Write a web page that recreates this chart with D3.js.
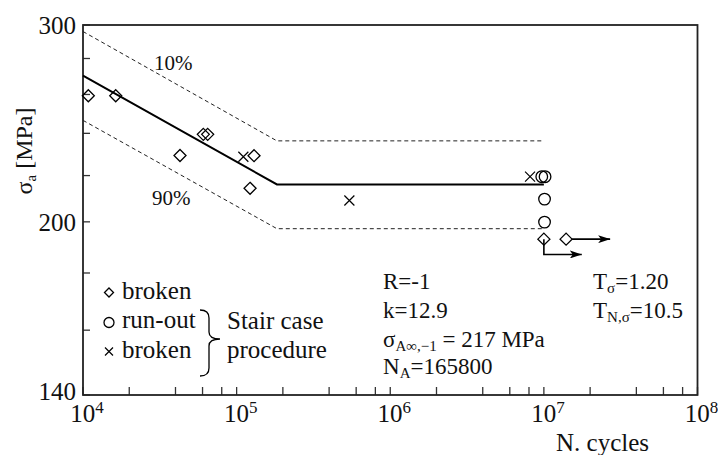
<!DOCTYPE html>
<html><head><meta charset="utf-8">
<script src="https://cdn.jsdelivr.net/npm/d3@7"></script>
</head>
<body style="margin:0">
<svg id="c" width="718" height="455"></svg>
<script>
// ---- data ----
const xMajorTicks = [1e4, 1e5, 1e6, 1e7, 1e8];
const xMajorExp = ["4", "5", "6", "7", "8"];
const xMinorMult = [2, 4, 6, 8];
const yTicks = [140, 160, 180, 200, 220, 240, 260, 280, 300];
const yTickLabels = [140, 200, 300];

const meanN = [1e4, 1.83e5, 1e7];
const meanS = [270.3, 216, 216];
const p10N = [1e4, 1.83e5, 1e7];
const p10S = [296, 236.3, 236.3];
const p90N = [1e4, 1.83e5, 1e7];
const p90S = [246.5, 197.2, 197.2];

const brokenN = [1.083e4, 1.633e4, 4.28e4, 6.07e4, 6.48e4, 1.298e5, 1.223e5, 1.0e7, 1.395e7];
const brokenS = [259.3, 259.3, 229.3, 239.5, 239.5, 229.2, 214.3, 193.0, 193.0];
const runoutN = [9.69e6, 1.018e7, 1.01e7, 1.01e7];
const runoutS = [219.5, 219.5, 209.6, 199.9];
const stairBrokenN = [1.106e5, 5.42e5, 8.13e6];
const stairBrokenS = [228.7, 209.0, 219.5];

// run-out arrows
const arrow1 = {n0: 1.0e7, s0: 193.0, s1: 187.0, n1: 1.765e7};
const arrow2 = {n0: 1.395e7, s0: 193.0, n1: 2.70e7};

// ---- layout ----
const FF = "'Liberation Serif'";
const L = 83, R = 697.5, T = 25, B = 395;
const svg = d3.select("#c");
const x = d3.scaleLog().domain([1e4, 1e8]).range([L, R]);
const y = d3.scaleLog().domain([140, 300]).range([B, T]);
const txt = (g, xx, yy, size) => g.append("text").attr("x", xx).attr("y", yy)
  .attr("font-family", FF).attr("font-size", size).attr("fill", "#111");

svg.append("defs").append("marker").attr("id","ah").attr("viewBox","0 0 12 8")
  .attr("refX",12).attr("refY",4).attr("markerWidth",12).attr("markerHeight",8)
  .attr("markerUnits","userSpaceOnUse").attr("orient","auto")
  .append("path").attr("d","M0,0 L12,4 L0,8 L3,4 Z").attr("fill","#000");

// ticks
const tg = svg.append("g").attr("stroke","#333").attr("stroke-width",1.3);
const minor = [];
for (let d = 1e4; d < 1e8; d *= 10) xMinorMult.forEach(m => minor.push(d*m));
minor.concat(xMajorTicks).forEach(v => {
  tg.append("line").attr("x1",x(v)).attr("x2",x(v)).attr("y1",B).attr("y2",B-8);
});
yTicks.forEach(v => {
  tg.append("line").attr("x1",L).attr("x2",L+7).attr("y1",y(v)).attr("y2",y(v));
});

// frame
svg.append("rect").attr("x",L).attr("y",T).attr("width",R-L).attr("height",B-T)
  .attr("fill","none").attr("stroke","#222").attr("stroke-width",1.8);

// tick labels
xMajorTicks.forEach((v,i) => {
  const t = txt(svg, x(v)+4, 422, 25).attr("text-anchor","middle");
  t.append("tspan").text("10");
  t.append("tspan").attr("font-size",17).attr("dy",-9).text(xMajorExp[i]);
});
yTickLabels.forEach(v => {
  txt(svg, 76, y(v) + (v===140 ? 5 : 9), 25).attr("text-anchor","end").text(v);
});

// axis titles
const yl = txt(svg, 0, 0, 24).attr("transform","translate(32,151) rotate(-90)").attr("text-anchor","middle");
yl.append("tspan").text("σ");
yl.append("tspan").attr("font-size",15).attr("dy",4).text("a");
yl.append("tspan").attr("dy",-4).text(" [MPa]");
txt(svg, 556, 451, 25).text("N. cycles");

// lines
const line = d3.line().x(d => x(d[0])).y(d => y(d[1]));
svg.append("path").datum(d3.zip(p10N,p10S)).attr("d",line).attr("fill","none")
  .attr("stroke","#222").attr("stroke-width",1).attr("stroke-dasharray","4,3");
svg.append("path").datum(d3.zip(p90N,p90S)).attr("d",line).attr("fill","none")
  .attr("stroke","#222").attr("stroke-width",1).attr("stroke-dasharray","4,3");
svg.append("path").datum(d3.zip(meanN,meanS)).attr("d",line).attr("fill","none")
  .attr("stroke","#000").attr("stroke-width",2);

txt(svg, 154, 70, 21).text("10%");
txt(svg, 152, 205, 21).text("90%");

// arrows
svg.append("path").attr("d", `M${x(arrow1.n0)},${y(arrow1.s0)} L${x(arrow1.n0)},${y(arrow1.s1)} L${x(arrow1.n1)},${y(arrow1.s1)}`)
  .attr("fill","none").attr("stroke","#000").attr("stroke-width",1.6).attr("marker-end","url(#ah)");
svg.append("line").attr("x1",x(arrow2.n0)+6).attr("y1",y(arrow2.s0)).attr("x2",x(arrow2.n1)).attr("y2",y(arrow2.s0))
  .attr("stroke","#000").attr("stroke-width",1.6).attr("marker-end","url(#ah)");

// markers
const diamond = (g, cx, cy, r) => g.append("path")
  .attr("d",`M${cx},${cy-r} L${cx+r},${cy} L${cx},${cy+r} L${cx-r},${cy} Z`)
  .attr("fill","none").attr("stroke","#000").attr("stroke-width",1.3);
const circle = (g, cx, cy, r) => g.append("circle").attr("cx",cx).attr("cy",cy).attr("r",r)
  .attr("fill","none").attr("stroke","#000").attr("stroke-width",1.3);
const cross = (g, cx, cy, r) => g.append("path")
  .attr("d",`M${cx-r},${cy-r} L${cx+r},${cy+r} M${cx-r},${cy+r} L${cx+r},${cy-r}`)
  .attr("fill","none").attr("stroke","#000").attr("stroke-width",1.2);

const mg = svg.append("g");
brokenN.forEach((n,i) => diamond(mg, x(n), y(brokenS[i]), 6));
runoutN.forEach((n,i) => circle(mg, x(n), y(runoutS[i]), 5.8));
stairBrokenN.forEach((n,i) => cross(mg, x(n), y(stairBrokenS[i]), 5));

// legend
const lg = svg.append("g");
diamond(lg, 109, 292.5, 4.5);
circle(lg, 109, 322.5, 5);
cross(lg, 109, 351.5, 4);
txt(lg, 122, 299, 25).text("broken");
txt(lg, 122, 328, 25).text("run-out");
txt(lg, 122, 358, 25).text("broken");
lg.append("path").attr("d","M200,310 Q209,310 209,318 L209,332 Q209,339 220,339 Q209,339 209,346 L209,368 Q209,376 200,376")
  .attr("fill","none").attr("stroke","#000").attr("stroke-width",1.3);
txt(lg, 227, 329, 25).text("Stair case");
txt(lg, 227, 358, 25).text("procedure");

// annotations
const ann = svg.append("g");
txt(ann, 383, 289, 23).text("R=-1");
txt(ann, 383, 318, 23).text("k=12.9");
let t = txt(ann, 383, 347, 23);
t.append("tspan").text("σ");
t.append("tspan").attr("font-size",15).attr("dy",4).text("A∞,−1");
t.append("tspan").attr("dy",-4).text(" = 217 MPa");
t = txt(ann, 383, 374, 23);
t.append("tspan").text("N");
t.append("tspan").attr("font-size",15).attr("dy",4).text("A");
t.append("tspan").attr("dy",-4).text("=165800");
t = txt(ann, 593, 289, 23);
t.append("tspan").text("T");
t.append("tspan").attr("font-size",15).attr("dy",4).text("σ");
t.append("tspan").attr("dy",-4).text("=1.20");
t = txt(ann, 593, 318, 23);
t.append("tspan").text("T");
t.append("tspan").attr("font-size",15).attr("dy",4).text("N,σ");
t.append("tspan").attr("dy",-4).text("=10.5");
</script></body></html>
